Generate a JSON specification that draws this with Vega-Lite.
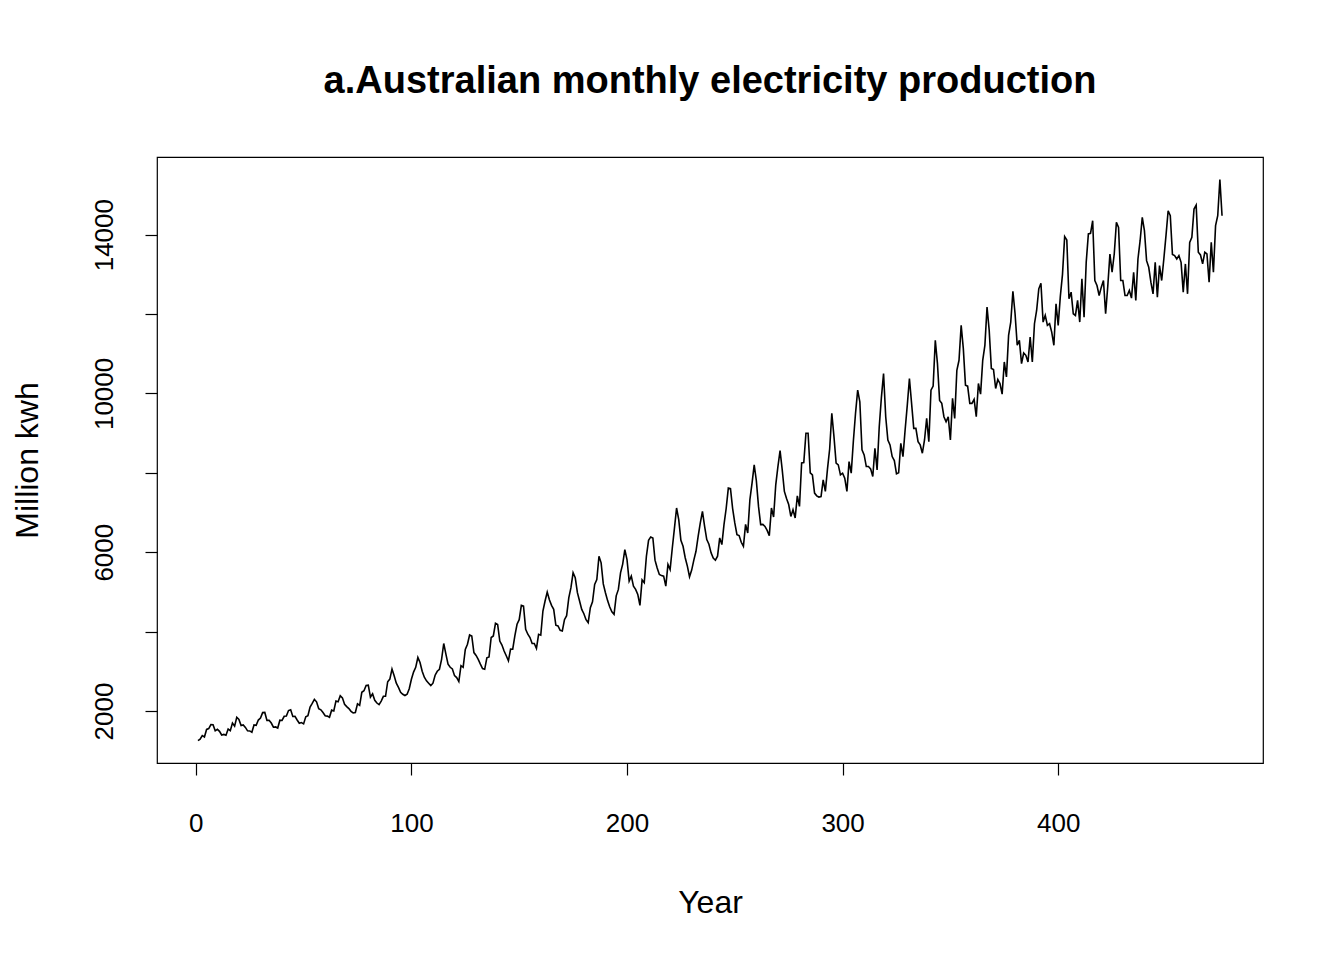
{
  "$schema": "https://vega.github.io/schema/vega-lite/v6.json",
  "autosize": {"type": "none"},
  "padding": {"left": 157, "top": 157, "right": 81, "bottom": 197},
  "width": 1106,
  "height": 606,
  "background": "white",
  "title": {"text": "a.Australian monthly electricity production", "fontSize": 38, "fontWeight": "bold", "font": "Liberation Sans", "color": "black", "offset": 56, "anchor": "middle"},
  "config": {
    "view": {"stroke": "black", "strokeWidth": 1.2},
    "axis": {"grid": false, "domain": false, "tickColor": "black", "tickSize": 12, "tickWidth": 1.2, "labelColor": "black", "titleColor": "black", "labelFont": "Liberation Sans", "titleFont": "Liberation Sans", "labelFontSize": 26, "titleFontSize": 32, "titleFontWeight": "normal"}
  },
  "data": {"values": [
{"t":1,"v":1254},{"t":2,"v":1290},{"t":3,"v":1379},{"t":4,"v":1346},{"t":5,"v":1535},{"t":6,"v":1555},{"t":7,"v":1655},{"t":8,"v":1651},{"t":9,"v":1500},{"t":10,"v":1538},{"t":11,"v":1486},{"t":12,"v":1394},
{"t":13,"v":1409},{"t":14,"v":1387},{"t":15,"v":1543},{"t":16,"v":1502},{"t":17,"v":1693},{"t":18,"v":1616},{"t":19,"v":1841},{"t":20,"v":1787},{"t":21,"v":1631},{"t":22,"v":1649},{"t":23,"v":1586},{"t":24,"v":1500},
{"t":25,"v":1497},{"t":26,"v":1463},{"t":27,"v":1648},{"t":28,"v":1640},{"t":29,"v":1771},{"t":30,"v":1820},{"t":31,"v":1958},{"t":32,"v":1962},{"t":33,"v":1763},{"t":34,"v":1766},{"t":35,"v":1696},{"t":36,"v":1590},
{"t":37,"v":1598},{"t":38,"v":1571},{"t":39,"v":1767},{"t":40,"v":1761},{"t":41,"v":1866},{"t":42,"v":1873},{"t":43,"v":2010},{"t":44,"v":2032},{"t":45,"v":1860},{"t":46,"v":1864},{"t":47,"v":1773},{"t":48,"v":1691},
{"t":49,"v":1708},{"t":50,"v":1675},{"t":51,"v":1852},{"t":52,"v":1880},{"t":53,"v":2100},{"t":54,"v":2190},{"t":55,"v":2290},{"t":56,"v":2230},{"t":57,"v":2060},{"t":58,"v":2030},{"t":59,"v":1960},{"t":60,"v":1880},
{"t":61,"v":1870},{"t":62,"v":1841},{"t":63,"v":2020},{"t":64,"v":2000},{"t":65,"v":2250},{"t":66,"v":2230},{"t":67,"v":2384},{"t":68,"v":2330},{"t":69,"v":2170},{"t":70,"v":2110},{"t":71,"v":2060},{"t":72,"v":1990},
{"t":73,"v":1950},{"t":74,"v":1960},{"t":75,"v":2180},{"t":76,"v":2140},{"t":77,"v":2470},{"t":78,"v":2510},{"t":79,"v":2640},{"t":80,"v":2650},{"t":81,"v":2350},{"t":82,"v":2430},{"t":83,"v":2270},{"t":84,"v":2200},
{"t":85,"v":2160},{"t":86,"v":2250},{"t":87,"v":2369},{"t":88,"v":2369},{"t":89,"v":2736},{"t":90,"v":2803},{"t":91,"v":3054},{"t":92,"v":2887},{"t":93,"v":2700},{"t":94,"v":2595},{"t":95,"v":2470},{"t":96,"v":2420},
{"t":97,"v":2390},{"t":98,"v":2420},{"t":99,"v":2560},{"t":100,"v":2800},{"t":101,"v":2980},{"t":102,"v":3100},{"t":103,"v":3348},{"t":104,"v":3220},{"t":105,"v":3000},{"t":106,"v":2850},{"t":107,"v":2760},{"t":108,"v":2700},
{"t":109,"v":2640},{"t":110,"v":2700},{"t":111,"v":2900},{"t":112,"v":3000},{"t":113,"v":3050},{"t":114,"v":3300},{"t":115,"v":3700},{"t":116,"v":3430},{"t":117,"v":3180},{"t":118,"v":3100},{"t":119,"v":3060},{"t":120,"v":2890},
{"t":121,"v":2840},{"t":122,"v":2740},{"t":123,"v":3140},{"t":124,"v":3100},{"t":125,"v":3550},{"t":126,"v":3680},{"t":127,"v":3915},{"t":128,"v":3890},{"t":129,"v":3470},{"t":130,"v":3400},{"t":131,"v":3300},{"t":132,"v":3180},
{"t":133,"v":3070},{"t":134,"v":3050},{"t":135,"v":3340},{"t":136,"v":3360},{"t":137,"v":3850},{"t":138,"v":3890},{"t":139,"v":4209},{"t":140,"v":4180},{"t":141,"v":3760},{"t":142,"v":3660},{"t":143,"v":3510},{"t":144,"v":3390},
{"t":145,"v":3263},{"t":146,"v":3560},{"t":147,"v":3556},{"t":148,"v":3900},{"t":149,"v":4184},{"t":150,"v":4300},{"t":151,"v":4661},{"t":152,"v":4644},{"t":153,"v":4058},{"t":154,"v":3933},{"t":155,"v":3850},{"t":156,"v":3700},
{"t":157,"v":3700},{"t":158,"v":3574},{"t":159,"v":3930},{"t":160,"v":3908},{"t":161,"v":4518},{"t":162,"v":4769},{"t":163,"v":4994},{"t":164,"v":4800},{"t":165,"v":4661},{"t":166,"v":4560},{"t":167,"v":4159},{"t":168,"v":4141},
{"t":169,"v":4030},{"t":170,"v":4015},{"t":171,"v":4300},{"t":172,"v":4400},{"t":173,"v":4850},{"t":174,"v":5105},{"t":175,"v":5481},{"t":176,"v":5355},{"t":177,"v":4979},{"t":178,"v":4769},{"t":179,"v":4560},{"t":180,"v":4450},
{"t":181,"v":4300},{"t":182,"v":4226},{"t":183,"v":4600},{"t":184,"v":4750},{"t":185,"v":5188},{"t":186,"v":5313},{"t":187,"v":5898},{"t":188,"v":5732},{"t":189,"v":5200},{"t":190,"v":4980},{"t":191,"v":4780},{"t":192,"v":4620},
{"t":193,"v":4500},{"t":194,"v":4435},{"t":195,"v":4900},{"t":196,"v":5062},{"t":197,"v":5481},{"t":198,"v":5700},{"t":199,"v":6066},{"t":200,"v":5815},{"t":201,"v":5270},{"t":202,"v":5396},{"t":203,"v":5146},{"t":204,"v":5062},
{"t":205,"v":4937},{"t":206,"v":4661},{"t":207,"v":5300},{"t":208,"v":5230},{"t":209,"v":5898},{"t":210,"v":6300},{"t":211,"v":6385},{"t":212,"v":6359},{"t":213,"v":5800},{"t":214,"v":5600},{"t":215,"v":5439},{"t":216,"v":5410},
{"t":217,"v":5396},{"t":218,"v":5146},{"t":219,"v":5690},{"t":220,"v":5564},{"t":221,"v":6100},{"t":222,"v":6600},{"t":223,"v":7113},{"t":224,"v":6820},{"t":225,"v":6300},{"t":226,"v":6150},{"t":227,"v":5860},{"t":228,"v":5648},
{"t":229,"v":5381},{"t":230,"v":5550},{"t":231,"v":5800},{"t":232,"v":6023},{"t":233,"v":6400},{"t":234,"v":6736},{"t":235,"v":7028},{"t":236,"v":6652},{"t":237,"v":6317},{"t":238,"v":6200},{"t":239,"v":5983},{"t":240,"v":5850},
{"t":241,"v":5798},{"t":242,"v":5900},{"t":243,"v":6359},{"t":244,"v":6192},{"t":245,"v":6700},{"t":246,"v":7100},{"t":247,"v":7615},{"t":248,"v":7600},{"t":249,"v":7100},{"t":250,"v":6736},{"t":251,"v":6443},{"t":252,"v":6418},
{"t":253,"v":6250},{"t":254,"v":6149},{"t":255,"v":6700},{"t":256,"v":6485},{"t":257,"v":7321},{"t":258,"v":7740},{"t":259,"v":8200},{"t":260,"v":7800},{"t":261,"v":7153},{"t":262,"v":6694},{"t":263,"v":6700},{"t":264,"v":6650},
{"t":265,"v":6550},{"t":266,"v":6418},{"t":267,"v":7113},{"t":268,"v":6887},{"t":269,"v":7698},{"t":270,"v":8157},{"t":271,"v":8559},{"t":272,"v":8074},{"t":273,"v":7530},{"t":274,"v":7350},{"t":275,"v":7200},{"t":276,"v":6900},
{"t":277,"v":7070},{"t":278,"v":6862},{"t":279,"v":7420},{"t":280,"v":7153},{"t":281,"v":8250},{"t":282,"v":8257},{"t":283,"v":8995},{"t":284,"v":8995},{"t":285,"v":8000},{"t":286,"v":7949},{"t":287,"v":7489},{"t":288,"v":7420},
{"t":289,"v":7389},{"t":290,"v":7400},{"t":291,"v":7823},{"t":292,"v":7530},{"t":293,"v":8100},{"t":294,"v":8600},{"t":295,"v":9497},{"t":296,"v":8911},{"t":297,"v":8242},{"t":298,"v":8200},{"t":299,"v":7949},{"t":300,"v":7991},
{"t":301,"v":7866},{"t":302,"v":7530},{"t":303,"v":8283},{"t":304,"v":7991},{"t":305,"v":8800},{"t":306,"v":9500},{"t":307,"v":10082},{"t":308,"v":9788},{"t":309,"v":8576},{"t":310,"v":8451},{"t":311,"v":8157},{"t":312,"v":8157},
{"t":313,"v":8100},{"t":314,"v":7906},{"t":315,"v":8618},{"t":316,"v":8074},{"t":317,"v":9162},{"t":318,"v":9900},{"t":319,"v":10500},{"t":320,"v":9413},{"t":321,"v":8827},{"t":322,"v":8702},{"t":323,"v":8409},{"t":324,"v":8308},
{"t":325,"v":7973},{"t":326,"v":8000},{"t":327,"v":8744},{"t":328,"v":8409},{"t":329,"v":9078},{"t":330,"v":9700},{"t":331,"v":10376},{"t":332,"v":9749},{"t":333,"v":9120},{"t":334,"v":9120},{"t":335,"v":8785},{"t":336,"v":8702},
{"t":337,"v":8493},{"t":338,"v":8827},{"t":339,"v":9372},{"t":340,"v":8785},{"t":341,"v":10082},{"t":342,"v":10183},{"t":343,"v":11337},{"t":344,"v":10752},{"t":345,"v":9824},{"t":346,"v":9749},{"t":347,"v":9413},{"t":348,"v":9287},
{"t":349,"v":9413},{"t":350,"v":8827},{"t":351,"v":9874},{"t":352,"v":9372},{"t":353,"v":10584},{"t":354,"v":10835},{"t":355,"v":11714},{"t":356,"v":11129},{"t":357,"v":10207},{"t":358,"v":10183},{"t":359,"v":9749},{"t":360,"v":9749},
{"t":361,"v":9849},{"t":362,"v":9413},{"t":363,"v":10250},{"t":364,"v":9982},{"t":365,"v":10835},{"t":366,"v":11212},{"t":367,"v":12173},{"t":368,"v":11588},{"t":369,"v":10626},{"t":370,"v":10601},{"t":371,"v":10124},{"t":372,"v":10350},
{"t":373,"v":10250},{"t":374,"v":9982},{"t":375,"v":10793},{"t":376,"v":10416},{"t":377,"v":11463},{"t":378,"v":11797},{"t":379,"v":12575},{"t":380,"v":12007},{"t":381,"v":11212},{"t":382,"v":11337},{"t":383,"v":10752},{"t":384,"v":11018},
{"t":385,"v":10960},{"t":386,"v":10793},{"t":387,"v":11421},{"t":388,"v":10793},{"t":389,"v":11756},{"t":390,"v":12090},{"t":391,"v":12635},{"t":392,"v":12776},{"t":393,"v":11797},{"t":394,"v":11965},{"t":395,"v":11714},{"t":396,"v":11756},
{"t":397,"v":11546},{"t":398,"v":11212},{"t":399,"v":12258},{"t":400,"v":11714},{"t":401,"v":12450},{"t":402,"v":13000},{"t":403,"v":13951},{"t":404,"v":13868},{"t":405,"v":12384},{"t":406,"v":12551},{"t":407,"v":12007},{"t":408,"v":11965},
{"t":409,"v":12342},{"t":410,"v":11797},{"t":411,"v":12886},{"t":412,"v":11922},{"t":413,"v":13303},{"t":414,"v":14017},{"t":415,"v":14032},{"t":416,"v":14350},{"t":417,"v":12844},{"t":418,"v":12718},{"t":419,"v":12467},{"t":420,"v":12677},
{"t":421,"v":12844},{"t":422,"v":12007},{"t":423,"v":12700},{"t":424,"v":13513},{"t":425,"v":13053},{"t":426,"v":13513},{"t":427,"v":14308},{"t":428,"v":14183},{"t":429,"v":12844},{"t":430,"v":12844},{"t":431,"v":12467},{"t":432,"v":12467},
{"t":433,"v":12593},{"t":434,"v":12400},{"t":435,"v":13053},{"t":436,"v":12342},{"t":437,"v":13387},{"t":438,"v":13847},{"t":439,"v":14434},{"t":440,"v":14100},{"t":441,"v":13345},{"t":442,"v":13178},{"t":443,"v":12802},{"t":444,"v":12509},
{"t":445,"v":13303},{"t":446,"v":12425},{"t":447,"v":13220},{"t":448,"v":12844},{"t":449,"v":13387},{"t":450,"v":13975},{"t":451,"v":14602},{"t":452,"v":14476},{"t":453,"v":13500},{"t":454,"v":13471},{"t":455,"v":13387},{"t":456,"v":13471},
{"t":457,"v":13303},{"t":458,"v":12551},{"t":459,"v":13262},{"t":460,"v":12509},{"t":461,"v":13806},{"t":462,"v":13930},{"t":463,"v":14644},{"t":464,"v":14744},{"t":465,"v":13555},{"t":466,"v":13488},{"t":467,"v":13262},{"t":468,"v":13555},
{"t":469,"v":13513},{"t":470,"v":12802},{"t":471,"v":13806},{"t":472,"v":13053},{"t":473,"v":14226},{"t":474,"v":14476},{"t":475,"v":15391},{"t":476,"v":14476}
  ]},
  "mark": {"type": "line", "color": "black", "strokeWidth": 1.6, "interpolate": "linear"},
  "encoding": {
    "x": {"field": "t", "type": "quantitative", "scale": {"domain": [-18, 495], "nice": false, "zero": false},
      "axis": {"title": "Year", "values": [0, 100, 200, 300, 400], "format": "d", "labelPadding": 56, "labelBaseline": "alphabetic", "titleX": 553, "titleY": 149, "titleBaseline": "alphabetic", "titleAlign": "center"}},
    "y": {"field": "v", "type": "quantitative", "scale": {"domain": [689, 15956], "nice": false, "zero": false},
      "axis": {"title": "Million kwh", "values": [2000, 4000, 6000, 8000, 10000, 12000, 14000], "format": "d", "labelExpr": "datum.value % 4000 == 2000 ? datum.label : ''", "labelAngle": -90, "labelAlign": "center", "labelBaseline": "alphabetic", "labelPadding": 33, "titleAngle": -90, "titleX": -120, "titleY": 303, "titleBaseline": "alphabetic", "titleAlign": "center"}}
  }
}
